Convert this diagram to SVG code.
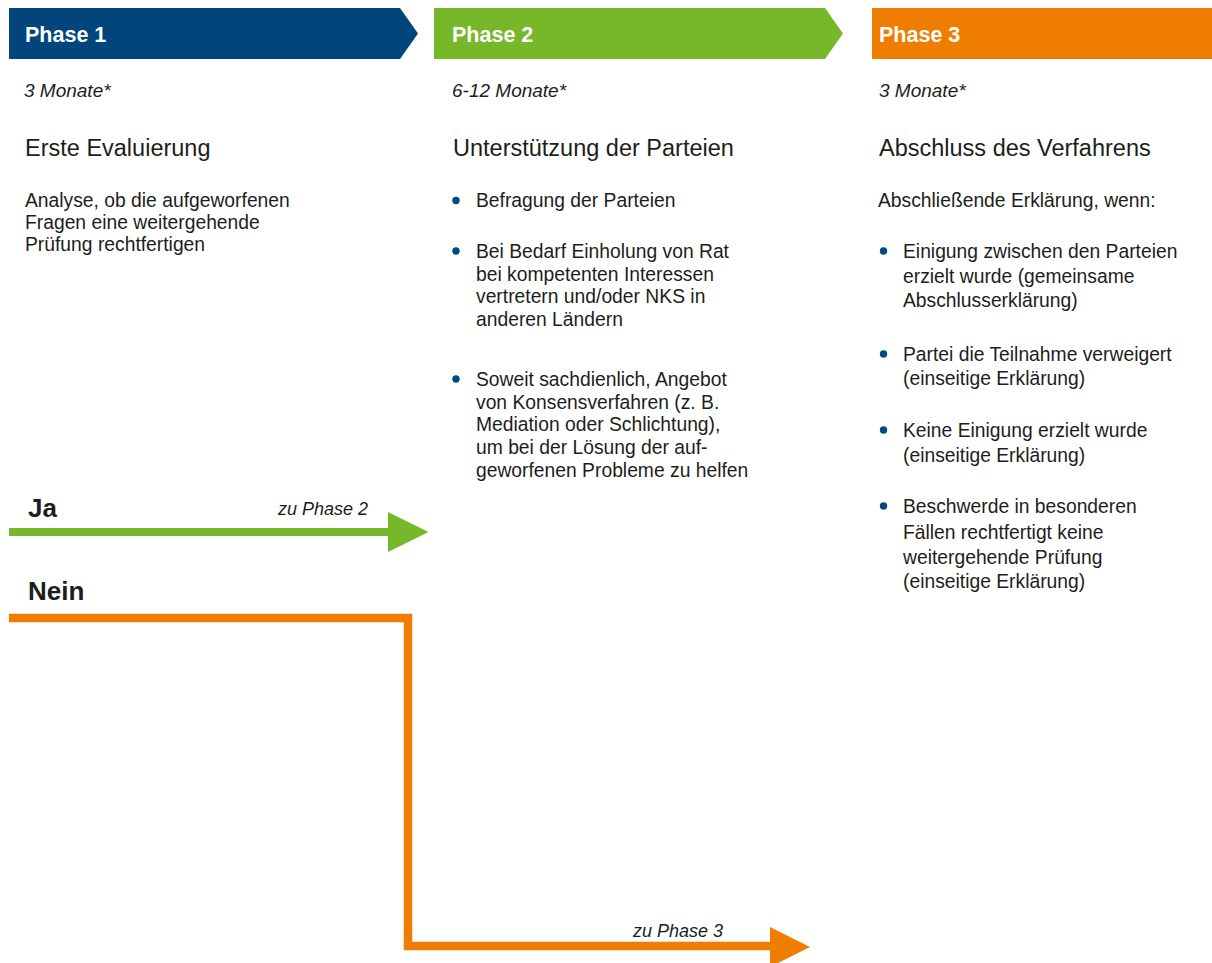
<svg xmlns="http://www.w3.org/2000/svg" width="1212" height="963" viewBox="0 0 1212 963">
  <style>
    text { font-family: "Liberation Sans", Arial, sans-serif; fill: #1d1d1b; }
    .phase { font-size: 21.5px; font-weight: bold; fill: #ffffff; }
    .dur { font-size: 19px; font-style: italic; }
    .head { font-size: 23.5px; }
    .body { font-size: 19.3px; }
    .dec { font-size: 26px; font-weight: bold; }
    .hint { font-size: 18px; font-style: italic; }
    .dot { fill: #004a80; }
    .blue { fill: #00457c; }
    .green { fill: #76b82a; }
    .orange { fill: #ef7d00; }
  </style>

  <!-- Phase 1: initial evaluation -->
  <g id="phase1">
    <polygon class="blue" points="9,8 400,8 418,33.5 400,59 9,59"/>
    <text class="phase" x="25" y="42">Phase 1</text>
    <text class="dur" x="24" y="97">3 Monate*</text>
    <text class="head" x="25" y="156">Erste Evaluierung</text>
    <text class="body" x="25" y="207">Analyse, ob die aufgeworfenen</text>
    <text class="body" x="25" y="229">Fragen eine weitergehende</text>
    <text class="body" x="25" y="251">Prüfung rechtfertigen</text>
  </g>

  <!-- Phase 2: support of the parties -->
  <g id="phase2">
    <polygon class="green" points="434,8 825,8 843,33.5 825,59 434,59"/>
    <text class="phase" x="452" y="42">Phase 2</text>
    <text class="dur" x="452" y="97">6-12 Monate*</text>
    <text class="head" x="453" y="156">Unterstützung der Parteien</text>
    <circle class="dot" cx="456" cy="200.5" r="3.7"/>
    <text class="body" x="476" y="207">Befragung der Parteien</text>
    <circle class="dot" cx="456" cy="251" r="3.7"/>
    <text class="body" x="476" y="258">Bei Bedarf Einholung von Rat</text>
    <text class="body" x="476" y="281">bei kompetenten Interessen</text>
    <text class="body" x="476" y="303">vertretern und/oder NKS in</text>
    <text class="body" x="476" y="326">anderen Ländern</text>
    <circle class="dot" cx="456" cy="379" r="3.7"/>
    <text class="body" x="476" y="386">Soweit sachdienlich, Angebot</text>
    <text class="body" x="476" y="409">von Konsensverfahren (z. B.</text>
    <text class="body" x="476" y="431">Mediation oder Schlichtung),</text>
    <text class="body" x="476" y="454">um bei der Lösung der auf-</text>
    <text class="body" x="476" y="477">geworfenen Probleme zu helfen</text>
  </g>

  <!-- Phase 3: closing the procedure -->
  <g id="phase3">
    <rect class="orange" x="872" y="8" width="340" height="51"/>
    <text class="phase" x="879" y="42">Phase 3</text>
    <text class="dur" x="879" y="97">3 Monate*</text>
    <text class="head" x="879" y="156">Abschluss des Verfahrens</text>
    <text class="body" x="878" y="207">Abschließende Erklärung, wenn:</text>
    <circle class="dot" cx="883.5" cy="251" r="3.7"/>
    <text class="body" x="903" y="258">Einigung zwischen den Parteien</text>
    <text class="body" x="903" y="283">erzielt wurde (gemeinsame</text>
    <text class="body" x="903" y="307">Abschlusserklärung)</text>
    <circle class="dot" cx="883.5" cy="354" r="3.7"/>
    <text class="body" x="903" y="361">Partei die Teilnahme verweigert</text>
    <text class="body" x="903" y="385">(einseitige Erklärung)</text>
    <circle class="dot" cx="883.5" cy="430" r="3.7"/>
    <text class="body" x="903" y="437">Keine Einigung erzielt wurde</text>
    <text class="body" x="903" y="462">(einseitige Erklärung)</text>
    <circle class="dot" cx="883.5" cy="506" r="3.7"/>
    <text class="body" x="903" y="513">Beschwerde in besonderen</text>
    <text class="body" x="903" y="539">Fällen rechtfertigt keine</text>
    <text class="body" x="903" y="564">weitergehende Prüfung</text>
    <text class="body" x="903" y="588">(einseitige Erklärung)</text>
  </g>

  <!-- Decision outcomes of phase 1 -->
  <g id="connectors">
    <g id="ja">
      <text class="dec" x="28" y="517">Ja</text>
      <text class="hint" x="278" y="515">zu Phase 2</text>
      <rect class="green" x="9" y="528" width="381" height="8"/>
      <polygon class="green" points="388,512 428.5,532 388,552"/>
    </g>
    <g id="nein">
      <text class="dec" x="28" y="600">Nein</text>
      <path d="M9,618 H408 V946 H772" fill="none" stroke="#ef7d00" stroke-width="8.5" stroke-linejoin="miter"/>
      <text class="hint" x="633" y="937">zu Phase 3</text>
      <polygon class="orange" points="770,927 810,947 770,967"/>
    </g>
  </g>
</svg>
